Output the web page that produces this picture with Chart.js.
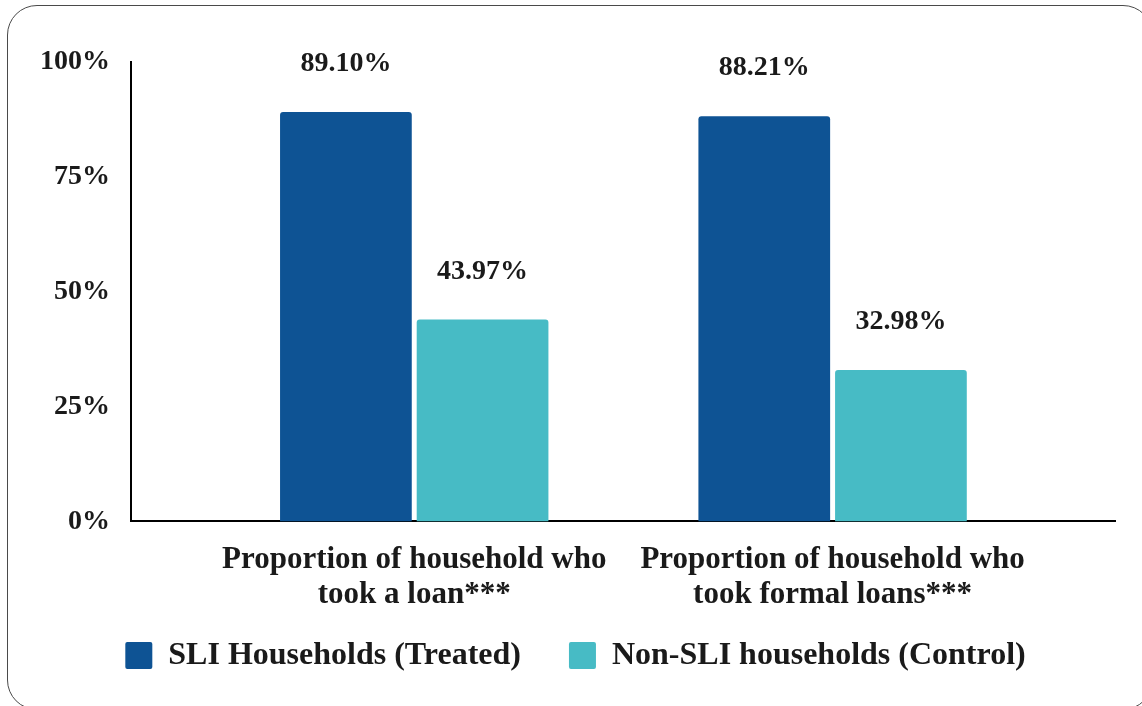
<!DOCTYPE html>
<html>
<head>
<meta charset="utf-8">
<script src="https://cdn.jsdelivr.net/npm/chart.js@4.4.1/dist/chart.umd.min.js"></script>
<style>
  html, body { margin: 0; padding: 0; background: #fff; overflow: hidden; }
  .frame {
    position: absolute; left: 7px; top: 5px; width: 1146px; height: 705px;
    border: 1.5px solid #4a4a4a; border-radius: 30px; box-sizing: border-box;
  }
  .wrap { position: absolute; left: 0; top: 0; width: 1142px; height: 706px; }
</style>
</head>
<body>
<div class="frame"></div>
<div class="wrap"><canvas id="chart" width="1142" height="706"></canvas></div>
<script>
  var categories = [
    ['Proportion of household who', 'took a loan***'],
    ['Proportion of household who', 'took formal loans***']
  ];
  var seriesNames = ['SLI Households (Treated)', 'Non-SLI households (Control)'];
  var treated = [89.10, 88.21];
  var control = [43.97, 32.98];
  var yTicks = [0, 25, 50, 75, 100];

  var FONT = '"Liberation Serif", "Times New Roman", serif';
  var INK = '#1a1a1a';

  function points(values) {
    return values.map(function (v, i) { return { x: i, y: v }; });
  }

  // value labels above each bar
  var valueLabels = {
    id: 'valueLabels',
    afterDatasetsDraw: function (chart) {
      var ctx = chart.ctx;
      ctx.save();
      ctx.font = 'bold 28px ' + FONT;
      ctx.fillStyle = INK;
      ctx.textAlign = 'center';
      ctx.textBaseline = 'middle';
      chart.data.datasets.forEach(function (ds, di) {
        chart.getDatasetMeta(di).data.forEach(function (bar, i) {
          ctx.fillText(ds.data[i].y.toFixed(2) + '%', bar.x, bar.y - 48);
        });
      });
      ctx.restore();
    }
  };

  new Chart(document.getElementById('chart').getContext('2d'), {
    type: 'bar',
    data: {
      datasets: [
        // trailing spaces widen the gap between the two legend entries
        { label: seriesNames[0] + '    ', data: points(treated), backgroundColor: '#0e5394', borderRadius: 3 },
        { label: seriesNames[1], data: points(control), backgroundColor: '#47bbc5', borderRadius: 3 }
      ]
    },
    options: {
      responsive: false,
      animation: false,
      layout: { padding: { top: 62, right: 27, bottom: 24.6, left: 36 } },
      categoryPercentage: 0.6533,
      barPercentage: 0.9638,
      scales: {
        x: {
          type: 'linear',
          min: -0.677,
          max: 1.675,
          offset: false,
          grid: { display: false, drawTicks: false },
          border: { display: true, color: '#000', width: 2 },
          afterBuildTicks: function (scale) {
            scale.ticks = categories.map(function (c, i) { return { value: i }; });
          },
          afterFit: function (scale) { scale.height = 102; },
          ticks: {
            autoSkip: false,
            maxRotation: 0,
            padding: 22,
            color: INK,
            font: { family: FONT, size: 31, weight: 'bold', lineHeight: 1.1 },
            callback: function (v) { return categories[v]; }
          }
        },
        y: {
          min: 0,
          max: 100,
          grid: { display: false, drawTicks: false },
          border: { display: true, color: '#000', width: 2 },
          afterBuildTicks: function (scale) {
            scale.ticks = yTicks.map(function (v) { return { value: v }; });
          },
          afterFit: function (scale) { scale.width = 95; },
          ticks: {
            padding: 21,
            color: INK,
            font: { family: FONT, size: 28, weight: 'bold' },
            callback: function (v) { return v + '%'; }
          }
        }
      },
      plugins: {
        legend: {
          position: 'bottom',
          labels: {
            boxWidth: 27,
            boxHeight: 27,
            useBorderRadius: true,
            borderRadius: 2,
            padding: 16,
            color: INK,
            font: { family: FONT, size: 32, weight: 'bold' }
          }
        },
        tooltip: { enabled: false }
      }
    },
    plugins: [valueLabels]
  });
</script>
</body>
</html>
